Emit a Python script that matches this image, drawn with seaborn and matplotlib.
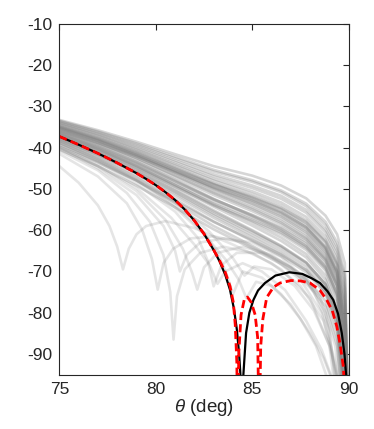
import matplotlib
matplotlib.use("Agg")
import matplotlib.pyplot as plt
import seaborn as sns
import numpy as np
import pandas as pd

# smooth gray curves, sampled on a common theta grid
smooth_theta = [75, 77, 79, 81, 83, 85, 86.5, 87.8, 88.8, 89.4, 89.8, 90.0]
smooth_levels = [
    [-33.3, -35.8, -38.6, -41.6, -44.5, -46.8, -49.2, -52.3, -56.5, -61.0, -68.0, -110],
    [-33.6, -36.3, -39.3, -42.6, -45.8, -48.3, -50.8, -54.2, -58.8, -64.0, -72.0, -110],
    [-34.0, -36.8, -40.0, -43.5, -47.0, -49.8, -52.4, -55.8, -60.5, -66.0, -75.0, -110],
    [-34.4, -37.3, -40.6, -44.3, -48.0, -51.2, -54.0, -57.6, -62.4, -68.0, -78.0, -110],
    [-34.8, -37.8, -41.2, -45.0, -48.8, -52.0, -54.8, -58.3, -63.0, -68.5, -79.0, -110],
    [-35.0, -38.0, -41.6, -45.6, -49.7, -53.3, -56.4, -60.1, -65.0, -71.0, -83.0, -110],
    [-35.3, -38.3, -41.8, -45.5, -49.0, -52.2, -55.0, -58.8, -64.0, -70.0, -82.0, -110],
    [-35.6, -38.8, -42.5, -46.6, -50.8, -54.6, -57.8, -61.6, -66.6, -72.8, -86.0, -110],
    [-35.9, -39.2, -43.0, -47.2, -51.5, -55.4, -58.6, -62.3, -67.2, -73.5, -88.0, -110],
    [-36.2, -39.5, -43.4, -47.8, -52.4, -56.6, -60.0, -63.8, -68.8, -75.5, -90.0, -110],
    [-36.5, -39.9, -43.8, -48.2, -52.6, -56.3, -59.3, -62.8, -67.5, -73.5, -87.0, -110],
    [-36.8, -40.3, -44.4, -49.0, -53.8, -58.2, -61.8, -65.8, -71.0, -78.0, -93.0, -110],
    [-37.1, -40.6, -44.7, -49.4, -54.3, -58.9, -62.6, -66.6, -72.0, -79.5, -96.0, -110],
    [-37.5, -41.1, -45.3, -50.1, -55.2, -60.0, -63.8, -67.8, -73.2, -81.0, -99.0, -110],
    [-37.9, -41.6, -45.9, -50.8, -56.0, -60.6, -64.2, -68.0, -73.0, -80.0, -97.0, -110],
    [-38.3, -42.1, -46.6, -51.7, -57.0, -61.8, -65.6, -69.6, -75.0, -83.0, -102.0, -110],
    [-38.8, -42.7, -47.3, -52.5, -57.9, -62.6, -66.3, -70.2, -75.5, -84.0, -104.0, -110],
    [-39.3, -43.3, -48.0, -53.4, -59.0, -63.8, -67.6, -71.6, -77.2, -86.0, -108.0, -110],
    [-36.0, -38.9, -42.2, -45.9, -49.6, -52.9, -55.9, -59.6, -64.6, -70.5, -84.0, -110],
    [-34.6, -37.6, -41.0, -44.8, -48.6, -51.8, -54.6, -58.0, -62.8, -68.4, -80.0, -110],
    [-37.3, -40.8, -44.9, -49.5, -54.0, -57.8, -61.0, -64.8, -69.8, -76.5, -91.0, -110],
    [-35.1, -38.2, -41.9, -46.0, -50.2, -54.0, -57.2, -61.0, -66.0, -72.0, -85.0, -110],
    [-39.8, -43.6, -48.0, -53.0, -58.0, -62.4, -65.9, -69.7, -74.8, -82.5, -100.0, -110],
    [-40.5, -44.5, -49.2, -54.5, -59.8, -64.5, -68.2, -72.4, -78.5, -88.0, -110.0, -110],
    [-33.9, -36.6, -39.7, -43.1, -46.5, -49.2, -51.7, -55.1, -59.8, -65.0, -74.0, -110],
    [-34.2, -37.1, -40.4, -44.0, -47.6, -50.6, -53.3, -56.8, -61.5, -67.0, -77.0, -110],
    [-35.4, -38.5, -42.1, -46.1, -50.0, -53.6, -56.7, -60.5, -65.5, -71.5, -84.0, -110],
    [-36.3, -39.7, -43.6, -48.0, -52.5, -56.4, -59.6, -63.3, -68.2, -74.5, -89.0, -110],
    [-35.7, -38.9, -42.6, -46.8, -51.0, -54.9, -58.2, -62.0, -67.0, -73.2, -87.0, -110],
    [-34.9, -37.9, -41.3, -45.1, -48.9, -52.5, -55.6, -59.3, -64.2, -70.0, -82.0, -110],
    [-36.9, -40.4, -44.5, -49.1, -53.6, -57.5, -60.6, -64.3, -69.3, -76.0, -91.0, -110],
    [-37.7, -41.3, -45.5, -50.4, -55.5, -60.2, -63.9, -67.9, -73.2, -80.5, -98.0, -110],
    [-33.5, -36.1, -39.0, -42.2, -45.4, -47.9, -50.4, -53.6, -58.0, -63.0, -71.0, -110],
    [-38.1, -41.8, -46.1, -51.1, -56.4, -61.2, -64.9, -68.8, -74.0, -81.5, -100.0, -110],
    [-35.2, -38.3, -41.8, -45.7, -49.5, -52.8, -55.7, -59.3, -64.3, -70.2, -83.0, -110],
    [-36.6, -40.1, -44.1, -48.6, -53.1, -57.0, -60.2, -64.0, -69.0, -75.5, -90.0, -110],
]

# gray curves with a null before 90 deg
null_curves = [
    ([75, 76, 77, 77.6, 78.0, 78.3, 78.6, 79.0, 79.5, 80.5, 82.0, 84.0, 86.0, 87.5, 88.7, 89.4, 89.9],
     [-44.5, -48.5, -54.0, -59.0, -64.0, -69.5, -64.5, -61.0, -59.0, -57.8, -59.5, -63.5, -68.0, -73.5, -82.0, -95.0, -110]),
    ([75, 77, 78.5, 79.3, 79.8, 80.1, 80.4, 80.9, 81.8, 83.0, 84.5, 86.0, 87.5, 88.6, 89.3, 89.8],
     [-41.5, -47.0, -53.5, -60.0, -67.0, -74.4, -68.0, -64.5, -62.0, -61.5, -63.0, -66.5, -72.0, -80.0, -92.0, -110]),
    ([75, 77, 78.5, 79.7, 80.4, 80.75, 80.92, 81.1, 81.5, 82.3, 83.5, 85.0, 86.5, 88.0, 89.0, 89.6],
     [-40.8, -45.5, -51.0, -58.0, -66.0, -75.0, -86.5, -76.0, -69.5, -65.5, -64.0, -65.5, -69.5, -76.5, -88.0, -110]),
    ([75, 77, 79, 80.5, 81.4, 81.9, 82.15, 82.5, 83.2, 84.5, 86.0, 87.5, 88.5, 89.3, 89.8],
     [-39.8, -44.5, -50.5, -57.5, -64.5, -70.5, -74.4, -69.0, -65.5, -64.0, -66.0, -70.5, -76.0, -88.0, -110]),
    ([75, 77, 79, 80.4, 81.0, 81.25, 81.6, 82.3, 83.5, 85.0, 86.5, 87.8, 88.8, 89.5],
     [-40.2, -45.0, -51.5, -59.0, -65.0, -70.0, -66.0, -63.0, -62.0, -63.0, -66.5, -72.0, -80.0, -100.0]),
    ([75, 77, 79, 81, 82.2, 82.7, 83.0, 83.4, 84.2, 85.5, 87.0, 88.2, 89.0, 89.6],
     [-39.2, -43.5, -48.8, -55.5, -62.0, -67.5, -73.6, -68.5, -65.5, -65.5, -69.0, -75.0, -84.0, -110]),
    ([75, 77, 79, 81, 82.5, 83.3, 83.7, 84.0, 84.5, 85.5, 86.5, 87.5, 88.3, 88.9],
     [-38.6, -42.8, -47.8, -54.0, -60.5, -66.5, -71.0, -75.5, -70.0, -71.5, -75.5, -81.5, -88.0, -96.0]),
    ([75, 77, 79, 81, 82.5, 83.6, 84.3, 84.7, 85.2, 86.0, 87.0, 88.0, 88.7, 89.2],
     [-38.9, -43.0, -48.0, -54.5, -61.0, -67.0, -72.0, -76.5, -72.5, -73.5, -78.0, -85.0, -91.0, -97.0]),
    ([75, 77, 79, 80.8, 82.0, 82.8, 83.2, 83.6, 84.5, 85.5, 86.7, 87.8, 88.6, 89.3],
     [-40.0, -44.3, -49.8, -57.0, -63.5, -68.5, -73.0, -70.0, -68.0, -70.0, -74.5, -82.0, -89.0, -98.0]),
    ([75, 77, 79, 81, 82.8, 84.0, 84.6, 85.1, 86.0, 87.2, 88.2, 89.0, 89.6],
     [-38.4, -42.4, -47.2, -53.2, -60.5, -66.8, -71.0, -68.8, -69.5, -73.5, -79.5, -88.0, -100.0]),
]

# black reference curve
black_theta = [75, 76, 77, 78, 79, 79.5, 80, 80.5, 81, 81.5, 82, 82.5, 83, 83.3, 83.6, 83.85,
               84.05, 84.2, 84.32, 84.4, 84.46, 84.54, 84.68, 84.85, 85.06, 85.3, 85.66, 86.2, 86.92,
               87.6, 88.1, 88.51, 88.9, 89.2, 89.45, 89.64, 89.78, 89.88]
black_level = [-37.3, -39.3, -41.4, -43.7, -46.2, -47.6, -49.1, -50.8, -52.7, -55.0, -57.7, -60.9, -64.8, -67.5, -70.8, -74.5,
               -79.0, -84.0, -90.0, -96.0, -115.0, -95.0, -84.9, -80.0, -76.9, -74.6, -72.8, -71.0, -70.2,
               -70.6, -71.7, -72.8, -74.8, -76.9, -80.3, -84.9, -90.0, -96.0]

# red dashed curve
red_theta = [75, 76, 77, 78, 79, 79.5, 80, 80.5, 81, 81.5, 82, 82.5, 83, 83.3, 83.6, 83.85,
             84.02, 84.12, 84.2, 84.25, 84.3, 84.42, 84.6, 84.75, 84.95, 85.15, 85.28, 85.36, 85.44, 85.55,
             85.75, 86.1, 86.44, 87.0, 87.5, 88.0, 88.5, 88.86, 89.15, 89.38, 89.55, 89.72, 89.8]
red_level = [-37.3, -39.3, -41.4, -43.7, -46.2, -47.6, -49.1, -50.8, -52.7, -55.0, -57.7, -60.9, -64.8, -67.3, -70.2, -73.6,
             -77.5, -83.0, -92.0, -110.0, -90.0, -80.5, -76.5, -76.2, -77.5, -80.5, -86.0, -110.0, -88.0, -81.5,
             -76.3, -73.8, -72.8, -72.2, -72.3, -72.8, -74.5, -76.9, -79.5, -83.3, -87.5, -93.0, -100.0]

x_ticks = [75, 80, 85, 90]
y_ticks = [-90, -80, -70, -60, -50, -40, -30, -20, -10]

sns.set_style("white")
plt.rcParams['font.family'] = ['Liberation Sans', 'DejaVu Sans']
plt.rcParams['mathtext.fontset'] = 'custom'
plt.rcParams['mathtext.it'] = 'Liberation Sans:italic'
plt.rcParams['axes.unicode_minus'] = False

rows = []
for k, lv in enumerate(smooth_levels):
    for t, v in zip(smooth_theta, lv):
        rows.append(('s%d' % k, t, v))
smooth_df = pd.DataFrame(rows, columns=['curve', 'theta', 'level'])

rows = []
for k, (tx, ty) in enumerate(null_curves):
    for t, v in zip(tx, ty):
        rows.append(('n%d' % k, t, v))
null_df = pd.DataFrame(rows, columns=['curve', 'theta', 'level'])

fig = plt.figure(figsize=(3.74, 4.29), dpi=100)
ax = fig.add_axes([0.1586, 0.1266, 0.7738, 0.8182])

sns.lineplot(data=null_df, x='theta', y='level', units='curve', estimator=None, sort=False,
             color='0.5', alpha=0.2, lw=1.9, ax=ax, legend=False)
sns.lineplot(data=smooth_df, x='theta', y='level', units='curve', estimator=None, sort=False,
             color='0.5', alpha=0.32, lw=1.9, ax=ax, legend=False)
sns.lineplot(x=black_theta, y=black_level, estimator=None, sort=False, color='k', lw=1.6, ax=ax)
sns.lineplot(x=red_theta, y=red_level, estimator=None, sort=False, color='red', lw=2.0,
             linestyle=(0, (2.9, 1.5)), ax=ax)

ax.set_xlim(75, 90)
ax.set_ylim(-95, -10)
ax.set_xticks(x_ticks)
ax.set_yticks(y_ticks)
ax.tick_params(direction='in', top=True, right=True, length=4, width=0.8,
               labelsize=12.5, colors='#262626', pad=5)
for s in ax.spines.values():
    s.set_visible(True)
    s.set_color('#262626')
    s.set_linewidth(0.8)
ax.set_xlabel(r'$\theta$ (deg)', fontsize=13.5, color='#262626', labelpad=0)
ax.set_ylabel('')

fig.savefig('out.png', dpi=100)
